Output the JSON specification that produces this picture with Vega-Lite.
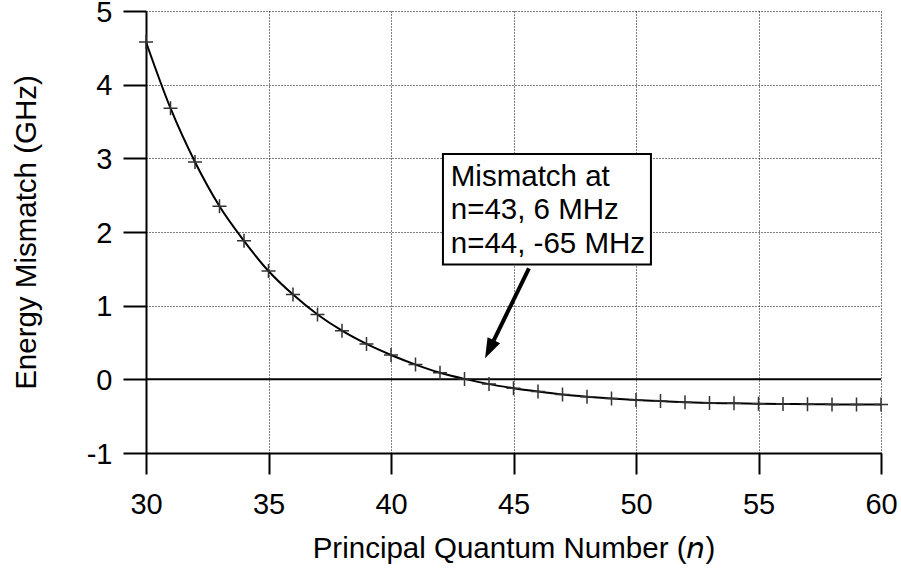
{
  "$schema": "https://vega.github.io/schema/vega-lite/v6.json",
  "width": 735,
  "height": 442,
  "autosize": "none",
  "padding": {"left": 146, "top": 11, "right": 20, "bottom": 122},
  "background": "white",
  "config": {
    "view": {"stroke": null},
    "font": "Liberation Sans",
    "axis": {
      "domainColor": "black", "domainWidth": 2,
      "tickColor": "black", "tickWidth": 2,
      "labelFont": "Liberation Sans", "labelFontSize": 29, "labelColor": "black", "labelFlush": false,
      "labelExpr": "'' + datum.value",
      "titleFont": "Liberation Sans", "titleFontSize": 29.5, "titleFontWeight": "normal", "titleColor": "black",
      "gridColor": "black", "gridDash": [1, 2], "gridWidth": 1, "gridOpacity": 1
    }
  },
  "datasets": {
    "points": [
      {"n": 30, "e": 4.58}, {"n": 31, "e": 3.68}, {"n": 32, "e": 2.95}, {"n": 33, "e": 2.35},
      {"n": 34, "e": 1.88}, {"n": 35, "e": 1.47}, {"n": 36, "e": 1.15}, {"n": 37, "e": 0.88},
      {"n": 38, "e": 0.66}, {"n": 39, "e": 0.48}, {"n": 40, "e": 0.33}, {"n": 41, "e": 0.2},
      {"n": 42, "e": 0.09}, {"n": 43, "e": 0.006}, {"n": 44, "e": -0.065}, {"n": 45, "e": -0.12},
      {"n": 46, "e": -0.165}, {"n": 47, "e": -0.205}, {"n": 48, "e": -0.235}, {"n": 49, "e": -0.26},
      {"n": 50, "e": -0.28}, {"n": 51, "e": -0.295}, {"n": 52, "e": -0.31}, {"n": 53, "e": -0.32},
      {"n": 54, "e": -0.325}, {"n": 55, "e": -0.33}, {"n": 56, "e": -0.335}, {"n": 57, "e": -0.337},
      {"n": 58, "e": -0.34}, {"n": 59, "e": -0.34}, {"n": 60, "e": -0.342}
    ],
    "zero": [{"n": 30, "e": 0}, {"n": 60, "e": 0}],
    "box": [{"n": 42.12, "n2": 50.61, "e": 3.06, "e2": 1.56}],
    "label": [{"n": 42.44, "e": 2.63, "text": "Mismatch at\nn=43, 6 MHz\nn=44, -65 MHz"}],
    "arrow": [{"n": 45.63, "e": 1.506, "n2": 44.16, "e2": 0.506}],
    "head": [{"n": 43.84, "e": 0.287}]
  },
  "encoding": {
    "x": {
      "field": "n", "type": "quantitative",
      "scale": {"domain": [30, 60], "nice": false, "zero": false},
      "axis": {
        "values": [30, 35, 40, 45, 50, 55, 60], "grid": true,
        "title": "Principal Quantum Number (𝘯)",
        "tickSize": 21, "labelPadding": 16,
        "titleBaseline": "alphabetic", "titleY": 104
      }
    },
    "y": {
      "field": "e", "type": "quantitative",
      "scale": {"domain": [-1, 5], "nice": false, "zero": false},
      "axis": {
        "values": [-1, 0, 1, 2, 3, 4, 5], "grid": true,
        "title": "Energy Mismatch (GHz)",
        "tickSize": 23, "labelPadding": 11, "labelOffset": 1,
        "titleAngle": -90, "titleBaseline": "alphabetic", "titleX": -111, "titleY": 221
      }
    }
  },
  "layer": [
    {
      "data": {"name": "zero"},
      "mark": {"type": "line", "color": "black", "strokeWidth": 2}
    },
    {
      "data": {"name": "points"},
      "mark": {"type": "line", "interpolate": "monotone", "color": "black", "strokeWidth": 2}
    },
    {
      "data": {"name": "points"},
      "mark": {"type": "point", "shape": "M-1,0L1,0M0,-1L0,1", "filled": false, "color": "#333333", "strokeWidth": 1.5, "size": 196, "opacity": 1}
    },
    {
      "data": {"name": "box"},
      "mark": {"type": "rect", "fill": "white", "stroke": "black", "strokeWidth": 2},
      "encoding": {
        "x2": {"field": "n2"},
        "y2": {"field": "e2"}
      }
    },
    {
      "data": {"name": "label"},
      "mark": {"type": "text", "align": "left", "baseline": "alphabetic", "fontSize": 29.5, "lineBreak": "\n", "lineHeight": 33.5, "font": "Liberation Sans", "color": "black"},
      "encoding": {
        "text": {"field": "text"}
      }
    },
    {
      "data": {"name": "arrow"},
      "mark": {"type": "rule", "color": "black", "strokeWidth": 4},
      "encoding": {
        "x2": {"field": "n2"},
        "y2": {"field": "e2"}
      }
    },
    {
      "data": {"name": "head"},
      "mark": {"type": "point", "shape": "M0,0L-0.7,2L0.7,2Z", "filled": true, "color": "black", "size": 400, "angle": 206, "opacity": 1, "strokeWidth": 0}
    }
  ]
}
